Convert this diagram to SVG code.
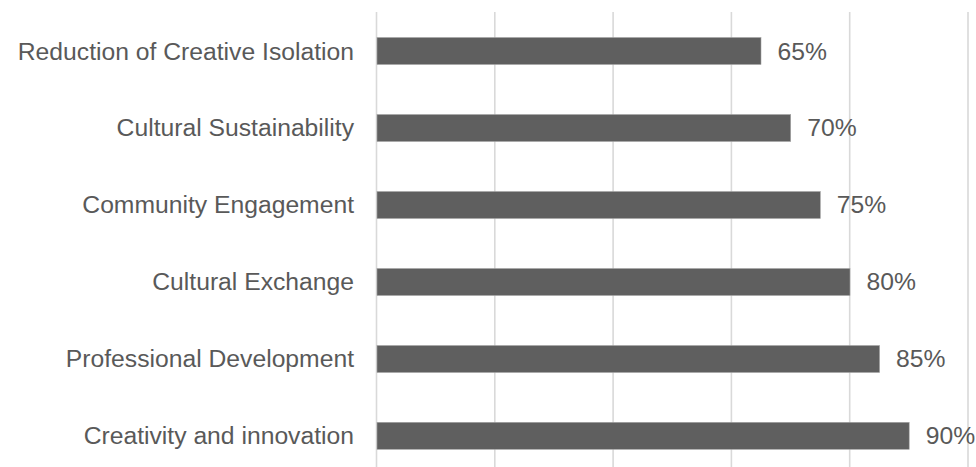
<svg xmlns="http://www.w3.org/2000/svg" width="976" height="467" viewBox="0 0 976 467">
<style>
.grid{stroke:#d9d9d9;stroke-width:1.6}
.bar{fill:#5f5f5f;stroke:#a6a6a6;stroke-width:0.6}
.lbl{font-family:"Liberation Sans",Arial,sans-serif;font-size:24.7px;fill:#595959;text-anchor:end}
.val{font-family:"Liberation Sans",Arial,sans-serif;font-size:24.7px;fill:#595959}
</style>
<rect width="976" height="467" fill="#ffffff"/>
<g id="gridlines">
<line class="grid" x1="376.5" y1="12" x2="376.5" y2="467"/>
<line class="grid" x1="494.8" y1="12" x2="494.8" y2="467"/>
<line class="grid" x1="613.1" y1="12" x2="613.1" y2="467"/>
<line class="grid" x1="731.4" y1="12" x2="731.4" y2="467"/>
<line class="grid" x1="849.7" y1="12" x2="849.7" y2="467"/>
<line class="grid" x1="968" y1="12" x2="968" y2="467"/>
</g>
<g id="row1">
<text class="lbl" x="354" y="59.5">Reduction of Creative Isolation</text>
<rect class="bar" x="377" y="37.5" width="384" height="27"/>
<text class="val" x="777.5" y="59.5">65%</text>
</g>
<g id="row2">
<text class="lbl" x="354" y="136.3">Cultural Sustainability</text>
<rect class="bar" x="377" y="114.5" width="413.7" height="27"/>
<text class="val" x="807.2" y="136.3">70%</text>
</g>
<g id="row3">
<text class="lbl" x="354" y="213.1">Community Engagement</text>
<rect class="bar" x="377" y="191.5" width="443.3" height="27"/>
<text class="val" x="836.8" y="213.1">75%</text>
</g>
<g id="row4">
<text class="lbl" x="354" y="289.9">Cultural Exchange</text>
<rect class="bar" x="377" y="268.5" width="473" height="27"/>
<text class="val" x="866.5" y="289.9">80%</text>
</g>
<g id="row5">
<text class="lbl" x="354" y="366.7">Professional Development</text>
<rect class="bar" x="377" y="345.5" width="502.6" height="27"/>
<text class="val" x="896.1" y="366.7">85%</text>
</g>
<g id="row6">
<text class="lbl" x="354" y="443.5">Creativity and innovation</text>
<rect class="bar" x="377" y="422.3" width="532.2" height="27"/>
<text class="val" x="925.7" y="443.5">90%</text>
</g>
</svg>
